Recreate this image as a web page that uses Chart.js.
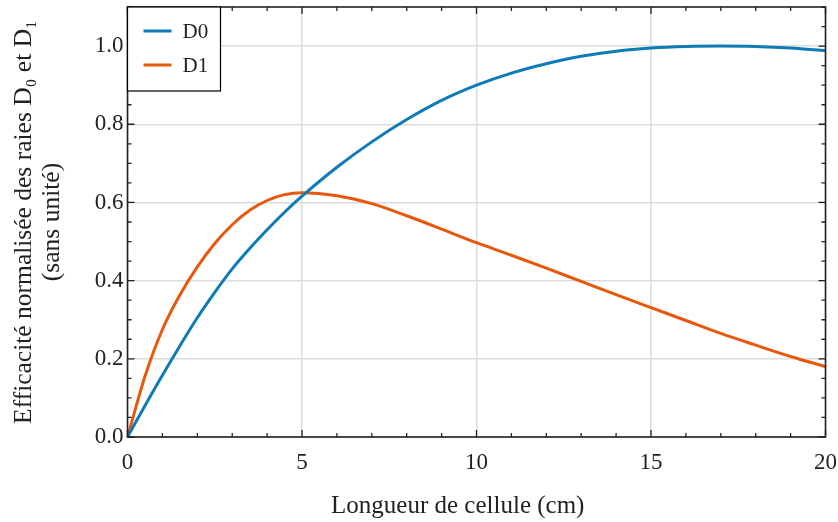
<!DOCTYPE html>
<html>
<head>
<meta charset="utf-8">
<script src="https://cdn.jsdelivr.net/npm/chart.js@4.4.1/dist/chart.umd.min.js"></script>
<style>
  html, body { margin: 0; padding: 0; background: #fff; }
</style>
</head>
<body>
<canvas id="effChart" width="838" height="522"></canvas>
<script>
// cell length (cm)
const lengths = [0, 0.5, 1, 1.5, 2, 2.5, 3, 3.5, 4, 4.5, 5, 6, 7, 8, 9, 10, 11, 12, 13, 14, 15, 16, 17, 18, 19, 20];
// normalised line efficiencies
const d0Values = [0, 0.08, 0.158, 0.233, 0.305, 0.37, 0.43, 0.482, 0.53, 0.575, 0.616, 0.69, 0.755, 0.812, 0.861, 0.9, 0.931, 0.955, 0.974, 0.987, 0.995, 0.999, 1.0, 0.999, 0.995, 0.988];
const d1Values = [0, 0.155, 0.275, 0.363, 0.435, 0.495, 0.543, 0.58, 0.605, 0.62, 0.625, 0.617, 0.597, 0.566, 0.532, 0.497, 0.465, 0.432, 0.398, 0.364, 0.331, 0.298, 0.265, 0.235, 0.206, 0.18];
const seriesLabels = ["D0", "D1"];
const xTickStep = 5;
const yTickStep = 0.2;

const SERIF = "'Liberation Serif', 'DejaVu Serif', serif";
const BLUE = "#0c7bb8";
const ORANGE = "#e8580c";

function toPoints(ys) {
  return lengths.map((x, i) => ({ x: x, y: ys[i] }));
}

// frame + inward ticks on all four sides, like the matplotlib style
const frameTicks = {
  id: "frameTicks",
  afterDatasetsDraw(chart) {
    const { ctx, chartArea: a, scales } = chart;
    ctx.save();
    ctx.strokeStyle = "#222";
    ctx.lineWidth = 1.3;
    ctx.beginPath();
    for (let v = 0; v <= 20.001; v += 1) {
      const px = scales.x.getPixelForValue(v);
      const len = v % 5 === 0 ? 7 : 4;
      ctx.moveTo(px, a.bottom); ctx.lineTo(px, a.bottom - len);
      ctx.moveTo(px, a.top); ctx.lineTo(px, a.top + len);
    }
    for (let i = 0; i <= 22; i++) {
      const v = i * 0.05;
      const py = scales.y.getPixelForValue(v);
      const len = i % 4 === 0 ? 7 : 4;
      ctx.moveTo(a.left, py); ctx.lineTo(a.left + len, py);
      ctx.moveTo(a.right, py); ctx.lineTo(a.right - len, py);
    }
    ctx.stroke();
    ctx.lineWidth = 1.6;
    ctx.strokeRect(a.left, a.top, a.right - a.left, a.bottom - a.top);
    ctx.restore();
  }
};

// boxed legend in the upper-left corner of the plot
const boxLegend = {
  id: "boxLegend",
  afterDraw(chart) {
    const { ctx, chartArea: a } = chart;
    const w = 93, h = 84;
    ctx.save();
    ctx.fillStyle = "#fff";
    ctx.fillRect(a.left, a.top, w, h);
    ctx.strokeStyle = "#000";
    ctx.lineWidth = 1.2;
    ctx.strokeRect(a.left, a.top, w, h);
    chart.data.datasets.forEach((ds, i) => {
      const y = a.top + 24 + i * 34;
      ctx.strokeStyle = ds.borderColor;
      ctx.lineWidth = 3;
      ctx.beginPath();
      ctx.moveTo(a.left + 16, y);
      ctx.lineTo(a.left + 44, y);
      ctx.stroke();
      ctx.fillStyle = "#222";
      ctx.font = "21px " + SERIF;
      ctx.textBaseline = "middle";
      ctx.fillText(ds.label, a.left + 55, y + 1);
    });
    ctx.restore();
  }
};

const chart = new Chart(document.getElementById("effChart"), {
  type: "line",
  data: {
    datasets: [
      {
        label: seriesLabels[0],
        data: toPoints(d0Values),
        borderColor: BLUE,
        borderWidth: 3,
        pointRadius: 0,
        cubicInterpolationMode: "monotone"
      },
      {
        label: seriesLabels[1],
        data: toPoints(d1Values),
        borderColor: ORANGE,
        borderWidth: 3,
        pointRadius: 0,
        cubicInterpolationMode: "monotone"
      }
    ]
  },
  options: {
    responsive: false,
    animation: false,
    layout: { padding: { top: 7, right: 12.5, left: 0, bottom: 0 } },
    plugins: {
      legend: { display: false },
      tooltip: { enabled: false }
    },
    scales: {
      x: {
        type: "linear",
        min: 0,
        max: 20,
        afterFit(scale) {
          scale.height = 85;
          scale.paddingLeft = 0;
          scale.paddingRight = 0;
        },
        ticks: {
          stepSize: xTickStep,
          color: "#222",
          padding: 12,
          maxRotation: 0,
          font: { family: SERIF, size: 23 },
          callback: (v) => String(v)
        },
        grid: { color: "#dcdcdc", lineWidth: 1.5, drawTicks: false },
        border: { display: false },
        title: {
          display: true,
          // trailing spaces nudge the centred title left, as in the original
          text: "Longueur de cellule (cm)\u00a0\u00a0\u00a0\u00a0\u00a0\u00a0",
          color: "#222",
          font: { family: SERIF, size: 25, lineHeight: 1.2 },
          padding: { top: 0, bottom: 1 }
        }
      },
      y: {
        min: 0,
        max: 1.1,
        afterFit(scale) {
          scale.width = 127.5;
          scale.paddingTop = 0;
          scale.paddingBottom = 0;
        },
        afterBuildTicks(scale) {
          scale.ticks = scale.ticks.filter((t) => t.value <= 1.0001);
        },
        ticks: {
          stepSize: yTickStep,
          color: "#222",
          padding: 4,
          font: { family: SERIF, size: 23 },
          callback: (v) => Number(v).toFixed(1)
        },
        grid: { color: "#dcdcdc", lineWidth: 1.5, drawTicks: false },
        border: { display: false },
        title: {
          display: true,
          text: ["Efficacité normalisée des raies D\u2080 et D\u2081", "(sans unité)"],
          color: "#222",
          font: { family: SERIF, size: 25.5, lineHeight: 1.08 },
          padding: { top: 11, bottom: 0 }
        }
      }
    }
  },
  plugins: [frameTicks, boxLegend]
});
</script>
</body>
</html>
